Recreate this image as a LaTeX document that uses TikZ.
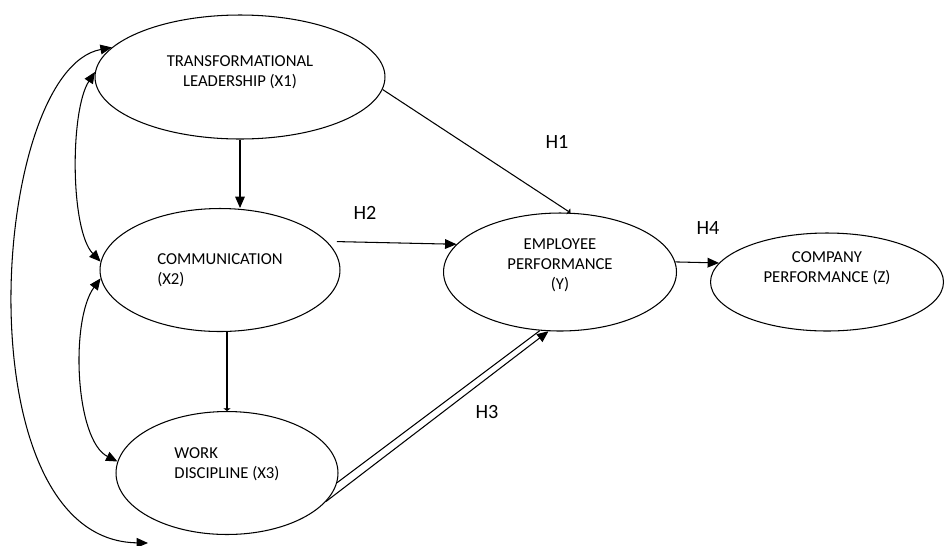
\documentclass[tikz,border=0pt]{standalone}
\usepackage{fontspec}
\setmainfont{Carlito}
\usetikzlibrary{shapes.geometric, arrows, arrows.meta, positioning, calc}

\begin{document}
\begin{tikzpicture}[
    x=0.02cm, y=-0.02cm,
    >={Triangle[length=6.5pt,width=5.5pt]},
    line width=0.6pt,
    construct/.style={ellipse, draw, inner sep=0pt, font=\fontsize{9.5}{11.4}\selectfont},
    hyp/.style={font=\fontsize{11.5}{13}\selectfont},
    tiny tip/.style={-{Triangle[length=1.5pt,width=4pt]}}
]
\useasboundingbox (0,0) rectangle (945,545);

\node[construct, minimum width=5.8cm, minimum height=2.48cm, align=center, text depth=0.24cm] (x1) at (240,77) {TRANSFORMATIONAL\\LEADERSHIP (X1)};
\node[construct, minimum width=4.8cm, minimum height=2.46cm, align=left] (x2) at (220,270) {COMMUNICATION\\(X2)};
\node[construct, minimum width=4.44cm, minimum height=2.46cm, align=left, text depth=0.4cm] (x3) at (227,473) {WORK\\DISCIPLINE (X3)};
\node[construct, minimum width=4.66cm, minimum height=2.36cm, align=center, text depth=0.32cm] (y) at (560,272) {EMPLOYEE\\PERFORMANCE\\(Y)};
\node[construct, minimum width=4.66cm, minimum height=1.96cm, align=center, text depth=0.6cm] (z) at (827,282) {COMPANY\\PERFORMANCE (Z)};

\node[hyp] (h1) at (557,142) {H1};
\node[hyp] (h2) at (365,213) {H2};
\node[hyp] (h3) at (487,412) {H3};
\node[hyp] (h4) at (708,228) {H4};

\draw[->] (x1.south) -- (x1.south |- x2.north);
\draw[tiny tip] (x3.north |- x2.south) -- (x3.north);

\draw[tiny tip] (x1.-5) -- (y.80);
\draw[->, shorten <=0.2cm] (x2.15) -- (y.165);
\draw (x3.-5) -- (y.251);
\draw[->] (x3.-16) -- (y.259);
\draw[->] (y.5) -- (z.170);

% correlations on the left
\draw[<->] (x1.178) .. controls (70,110) and (70,230) .. (x2.176);
\draw[<->] (x2.184) .. controls (70,320) and (75,440) .. (x3.174);
\coordinate (x3in) at (148,543);
\draw[<->] (x1.167) .. controls (-10,70) and (-40,540) .. (x3in);

\end{tikzpicture}
\end{document}
